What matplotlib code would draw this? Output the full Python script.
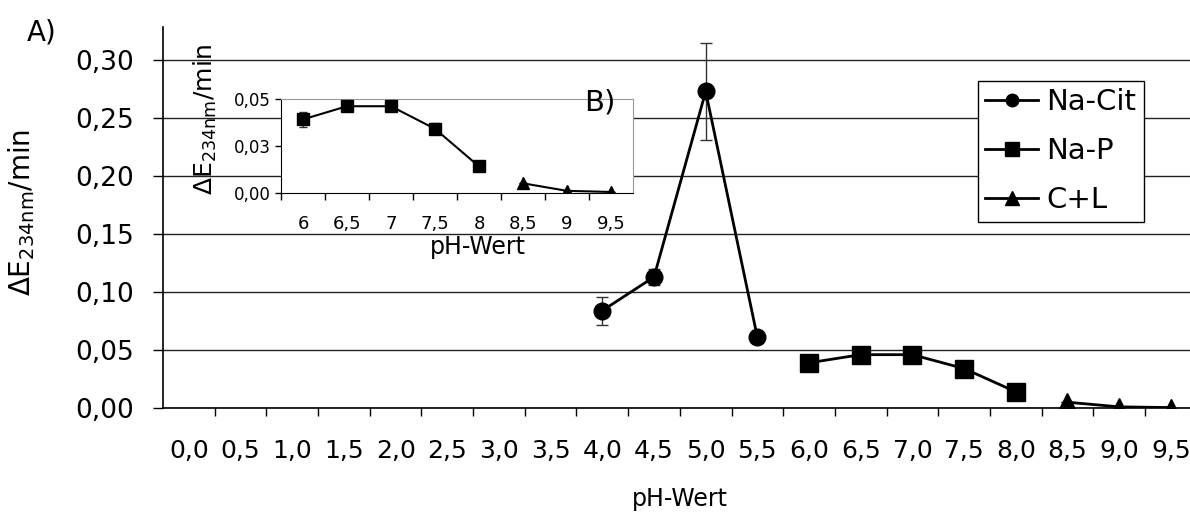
import numpy as np
import matplotlib
matplotlib.use("Agg")
import matplotlib.pyplot as plt
from matplotlib.ticker import FuncFormatter, FixedLocator

plt.rcParams['font.family'] = ['DejaVu Sans']
plt.rcParams['mathtext.default'] = 'regular'

# ==========================================
# Daten
# ==========================================
ph_ticks = np.arange(0.0, 10.0, 0.5)

ph_cit = [4.0, 4.5, 5.0, 5.5]
de_cit = [0.084, 0.113, 0.273, 0.061]
err_cit = [0.012, 0.007, 0.042, 0.002]

ph_p = [6.0, 6.5, 7.0, 7.5, 8.0]
de_p = [0.039, 0.046, 0.046, 0.034, 0.014]
err_p = [0.004, 0.001, 0.001, 0.003, 0.001]

ph_cl = [8.5, 9.0, 9.5]
de_cl = [0.005, 0.001, 0.0004]
err_cl = [0.0, 0.0, 0.0]

ylabel = r'$\Delta$E$_{234nm}$/min'

fig = plt.figure(figsize=(11.9, 5.12), dpi=100)

# ==========================================
# Hauptdiagramm A)
# ==========================================
ax = fig.add_axes([0.137, 0.2031, 0.8686, 0.744])

series = [
    (ph_cit, de_cit, err_cit, 'o', 12, 'Na-Cit'),
    (ph_p, de_p, err_p, 's', 13, 'Na-P'),
    (ph_cl, de_cl, err_cl, '^', 13, 'C+L'),
]
for x, y, e, m, ms, lab in series:
    ax.errorbar(x, y, yerr=e, fmt='none', ecolor='#333333', elinewidth=1,
                capsize=4.5, capthick=1, zorder=3)
    ax.plot(x, y, color='black', marker=m, markersize=ms, linewidth=2,
            label=lab, zorder=4)

ax.set_xlim(-0.25, 9.75)
ax.set_ylim(0, 0.3285)
ax.set_xticks(ph_ticks)
ax.set_xticklabels([f'{v:.1f}'.replace('.', ',') for v in ph_ticks])
ax.xaxis.set_minor_locator(FixedLocator(ph_ticks + 0.25))
ax.set_yticks(np.arange(0, 0.31, 0.05))
ax.yaxis.set_major_formatter(FuncFormatter(lambda v, p: f'{v:.2f}'.replace('.', ',')))

ax.tick_params(axis='x', which='major', length=0, pad=22, labelsize=18)
ax.tick_params(axis='x', which='minor', length=6, width=1, direction='out')
ax.tick_params(axis='y', length=7, width=1, direction='out', pad=14, labelsize=19)

ax.grid(axis='y', color='#222222', linewidth=1)
ax.set_axisbelow(True)
for s in ['top', 'right']:
    ax.spines[s].set_visible(False)
ax.spines['left'].set_linewidth(1.2)
ax.spines['bottom'].set_linewidth(1.2)

ax.set_xlabel('pH-Wert', fontsize=17)
ax.xaxis.set_label_coords(0.5, -0.207)
ax.set_ylabel(ylabel, fontsize=20)
ax.yaxis.set_label_coords(-0.122, 0.514)

fig.text(42 / 1190, 1 - 32 / 512, 'A)', fontsize=20, ha='center', va='center')

leg = ax.legend(loc='upper left', bbox_to_anchor=(978 / 1190, 1 - 81 / 512),
                bbox_transform=fig.transFigure, borderaxespad=0, fontsize=21,
                frameon=True, fancybox=False, edgecolor='black',
                handlelength=1.8, handletextpad=0.3, labelspacing=0.72,
                borderpad=0.25, markerscale=0.75)
leg.get_frame().set_linewidth(1)
leg.get_frame().set_alpha(1)

# ==========================================
# Einschub B)
# ==========================================
ax_in = fig.add_axes([0.2361, 0.6236, 0.2958, 0.1836])
ax_in.set_facecolor('white')

for x, y, e, m, ms, lab in series[1:]:
    ax_in.errorbar(x, y, yerr=e, fmt='none', ecolor='#333333', elinewidth=1,
                   capsize=3, capthick=1, zorder=3)
    ax_in.plot(x, y, color='black', marker=m, markersize=ms * 0.65,
               linewidth=1.5, zorder=4)

ax_in.set_xlim(5.75, 9.75)
ax_in.set_ylim(0, 0.05)
in_ticks = ph_ticks[ph_ticks >= 6]
ax_in.set_xticks(in_ticks)
ax_in.set_xticklabels([f'{v:g}'.replace('.', ',') for v in in_ticks])
ax_in.xaxis.set_minor_locator(FixedLocator(in_ticks - 0.25))
ax_in.set_yticks([0, 0.025, 0.05])
ax_in.set_yticklabels(['0,00', '0,03', '0,05'])

ax_in.tick_params(axis='x', which='major', length=0, pad=16, labelsize=13)
ax_in.tick_params(axis='x', which='minor', length=5, width=1, direction='out')
ax_in.tick_params(axis='y', length=4, width=1, direction='out', pad=3, labelsize=12)

ax_in.spines['top'].set_color('#999999')
ax_in.spines['right'].set_color('#999999')

ax_in.set_xlabel('pH-Wert', fontsize=17)
ax_in.xaxis.set_label_coords(0.56, -0.45)
ax_in.set_ylabel(ylabel, fontsize=18)
ax_in.yaxis.set_label_coords(-0.176, 0.78)

fig.text(600 / 1190, 1 - 102 / 512, 'B)', fontsize=21, ha='center', va='center')

plt.savefig('out.png', dpi=100)
